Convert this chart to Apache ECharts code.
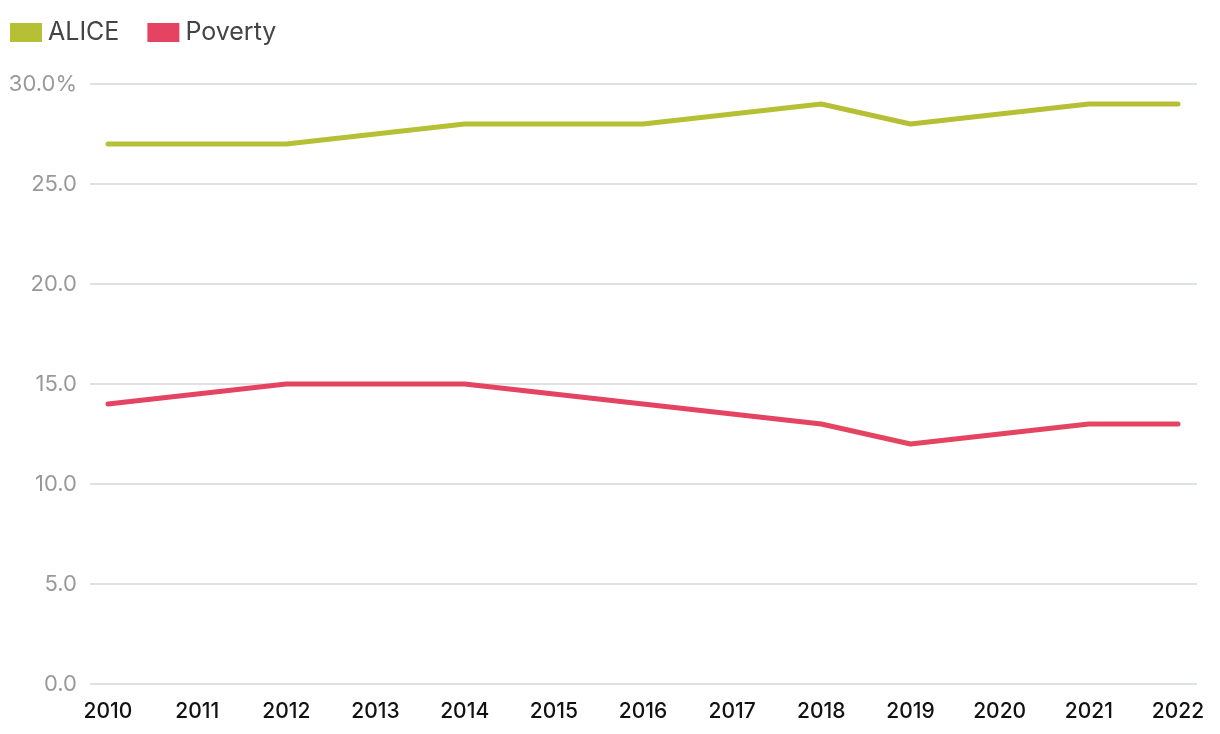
<!DOCTYPE html>
<html><head><meta charset="utf-8">
<script src="https://cdn.jsdelivr.net/npm/echarts@6/dist/echarts.min.js"></script>
<style>html,body{margin:0;padding:0;background:#fff}#c{width:1220px;height:734px}</style>
</head><body><div id="c"></div>
<script>
const years = ['2010','2011','2012','2013','2014','2015','2016','2017','2018','2019','2020','2021','2022'];
const alice = [27,27,27,27.5,28,28,28,28.5,29,28,28.5,29,29];
const poverty = [14,14.5,15,15,15,14.5,14,13.5,13,12,12.5,13,13];
const yTicks = [0,5,10,15,20,25,30];

const chart = echarts.init(document.getElementById('c'));
const font = 'Inter, Lato, "Noto Sans", sans-serif';
chart.setOption({
  animation:false,
  legend:{left:10,top:20,padding:0,itemWidth:32,itemHeight:19,itemGap:28,icon:'rect',
    textStyle:{fontFamily:font,fontSize:25,color:'#444',padding:[0,0,0,1]},
    data:['ALICE','Poverty']},
  grid:[
    {left:90,right:23,top:84,bottom:50},
    {left:108,right:42,top:84,bottom:50}
  ],
  xAxis:[
    {type:'category',gridIndex:0,data:years,show:false},
    {type:'category',gridIndex:1,data:years,boundaryGap:false,
      axisLine:{show:false},axisTick:{show:false},
      axisLabel:{fontFamily:font,fontSize:21,fontWeight:500,color:'#111',margin:17,interval:0}}
  ],
  yAxis:[
    {type:'value',gridIndex:0,min:yTicks[0],max:yTicks[yTicks.length-1],interval:5,
      axisLine:{show:false},axisTick:{show:false},
      splitLine:{lineStyle:{color:'#d5d8d8',width:1.5}},
      axisLabel:{fontFamily:font,fontSize:22,color:'#999',margin:13,
        formatter:v=>v===30?v.toFixed(1)+'%':v.toFixed(1)}},
    {type:'value',gridIndex:1,min:0,max:30,interval:5,show:false,splitLine:{show:false}}
  ],
  series:[
    {name:'ALICE',type:'line',xAxisIndex:1,yAxisIndex:1,data:alice,symbol:'none',
      color:'#b5c034',lineStyle:{width:5,cap:'round',join:'round'}},
    {name:'Poverty',type:'line',xAxisIndex:1,yAxisIndex:1,data:poverty,symbol:'none',
      color:'#e44461',lineStyle:{width:5,cap:'round',join:'round'}}
  ]
});
</script></body></html>
